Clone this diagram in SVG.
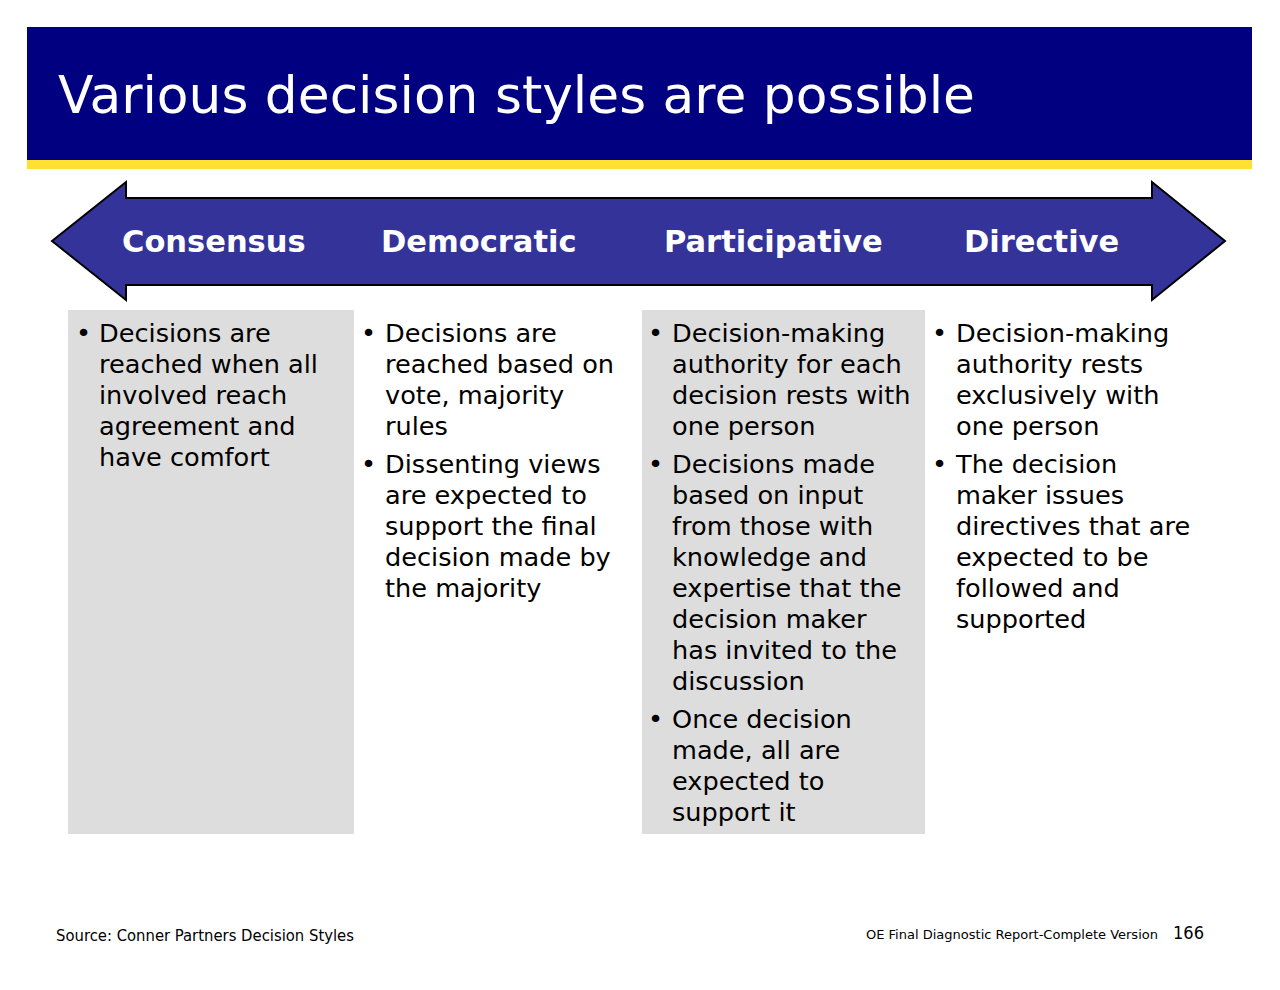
<svg xmlns="http://www.w3.org/2000/svg" width="1280" height="990" viewBox="0 0 1280 990">
<style>
.title{font-family:"DejaVu Sans",Verdana,sans-serif;font-size:52px;fill:#ffffff}
.hd{font-family:"DejaVu Sans",Verdana,sans-serif;font-size:30.5px;font-weight:bold;fill:#ffffff}
.bt{font-family:"DejaVu Sans",Verdana,sans-serif;font-size:25.6px;fill:#000000}
.ft{font-family:"Liberation Sans Narrow","DejaVu Sans Condensed",sans-serif;fill:#000000}
.box{fill:#dddddd}
</style>
<rect width="1280" height="990" fill="#ffffff"/>
<g id="header">
<rect x="27" y="27" width="1225" height="133" fill="#000080"/>
<rect x="27" y="160" width="1225" height="9" fill="#ffe033"/>
<text class="title" x="58" y="113" textLength="917" lengthAdjust="spacingAndGlyphs">Various decision styles are possible</text>
</g>
<g id="arrow">
<polygon points="52,241 126,182 126,198 1152,198 1152,182 1225,241 1152,300 1152,285 126,285 126,300" fill="#333399" stroke="#000000" stroke-width="2" stroke-linejoin="miter"/>
<text class="hd" x="122" y="252">Consensus</text>
<text class="hd" x="381" y="252">Democratic</text>
<text class="hd" x="664" y="252">Participative</text>
<text class="hd" x="964" y="252">Directive</text>
</g>
<g id="consensus">
<rect class="box" x="68" y="310" width="286" height="524"/>
<text class="bt" x="76" y="342">•</text>
<text class="bt" x="99" y="342">Decisions are</text>
<text class="bt" x="99" y="373">reached when all</text>
<text class="bt" x="99" y="404">involved reach</text>
<text class="bt" x="99" y="435">agreement and</text>
<text class="bt" x="99" y="466">have comfort</text>
</g>
<g id="democratic">
<text class="bt" x="361" y="342">•</text>
<text class="bt" x="385" y="342">Decisions are</text>
<text class="bt" x="385" y="373">reached based on</text>
<text class="bt" x="385" y="404">vote, majority</text>
<text class="bt" x="385" y="435">rules</text>
<text class="bt" x="361" y="473">•</text>
<text class="bt" x="385" y="473">Dissenting views</text>
<text class="bt" x="385" y="504">are expected to</text>
<text class="bt" x="385" y="535">support the final</text>
<text class="bt" x="385" y="566">decision made by</text>
<text class="bt" x="385" y="597">the majority</text>
</g>
<g id="participative">
<rect class="box" x="642" y="310" width="283" height="524"/>
<text class="bt" x="648" y="342">•</text>
<text class="bt" x="672" y="342">Decision-making</text>
<text class="bt" x="672" y="373">authority for each</text>
<text class="bt" x="672" y="404">decision rests with</text>
<text class="bt" x="672" y="435">one person</text>
<text class="bt" x="648" y="473">•</text>
<text class="bt" x="672" y="473">Decisions made</text>
<text class="bt" x="672" y="504">based on input</text>
<text class="bt" x="672" y="535">from those with</text>
<text class="bt" x="672" y="566">knowledge and</text>
<text class="bt" x="672" y="597">expertise that the</text>
<text class="bt" x="672" y="628">decision maker</text>
<text class="bt" x="672" y="659">has invited to the</text>
<text class="bt" x="672" y="690">discussion</text>
<text class="bt" x="648" y="728">•</text>
<text class="bt" x="672" y="728">Once decision</text>
<text class="bt" x="672" y="759">made, all are</text>
<text class="bt" x="672" y="790">expected to</text>
<text class="bt" x="672" y="821">support it</text>
</g>
<g id="directive">
<text class="bt" x="932" y="342">•</text>
<text class="bt" x="956" y="342">Decision-making</text>
<text class="bt" x="956" y="373">authority rests</text>
<text class="bt" x="956" y="404">exclusively with</text>
<text class="bt" x="956" y="435">one person</text>
<text class="bt" x="932" y="473">•</text>
<text class="bt" x="956" y="473">The decision</text>
<text class="bt" x="956" y="504">maker issues</text>
<text class="bt" x="956" y="535">directives that are</text>
<text class="bt" x="956" y="566">expected to be</text>
<text class="bt" x="956" y="597">followed and</text>
<text class="bt" x="956" y="628">supported</text>
</g>
<g id="connectors"></g>
<g id="footer">
<text class="ft" x="56" y="941" font-size="15" textLength="298" lengthAdjust="spacingAndGlyphs">Source: Conner Partners Decision Styles</text>
<text class="ft" x="866" y="939" font-size="13" textLength="292" lengthAdjust="spacingAndGlyphs">OE Final Diagnostic Report-Complete Version</text>
<text class="ft" x="1173" y="939" font-size="17" textLength="31" lengthAdjust="spacingAndGlyphs">166</text>
</g>
</svg>
